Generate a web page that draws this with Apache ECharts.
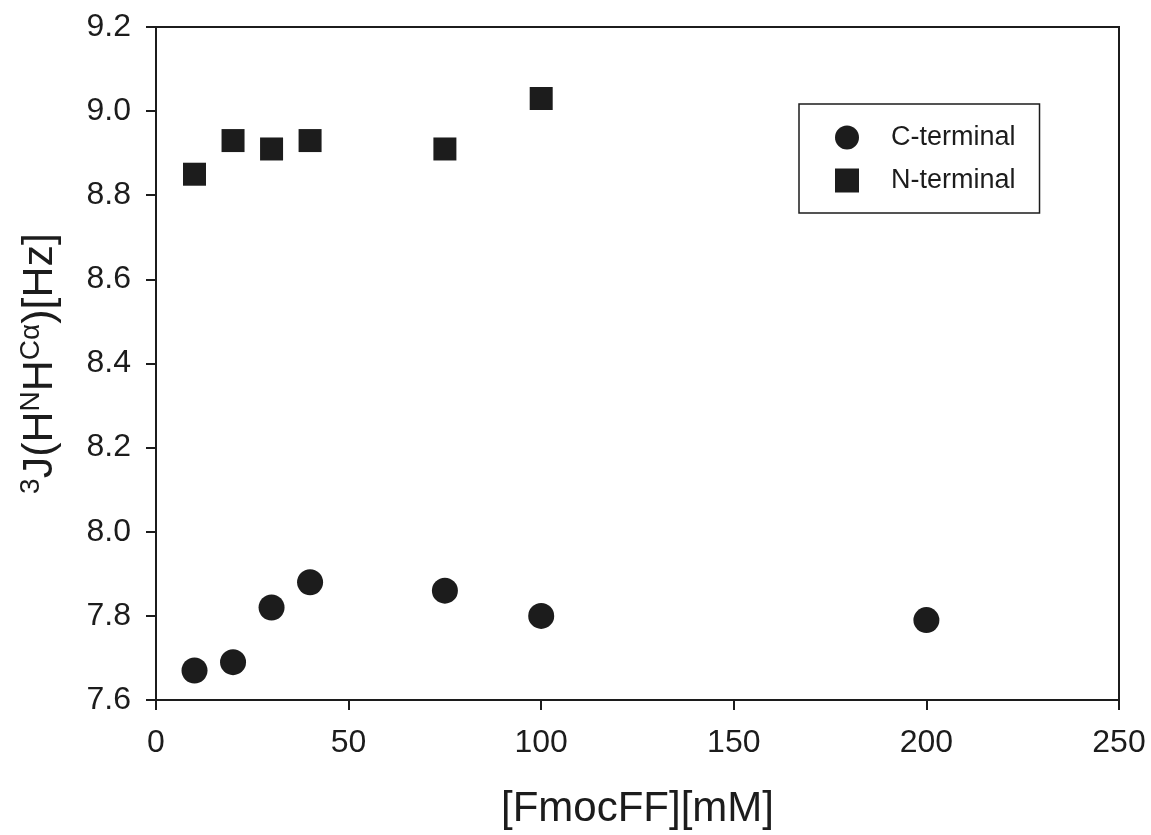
<!DOCTYPE html>
<html>
<head>
<meta charset="utf-8">
<script src="https://cdn.jsdelivr.net/npm/echarts@6/dist/echarts.min.js"></script>
<style>
    html, body { margin: 0; padding: 0; background: #fff; }
    #chart { width: 1151px; height: 835px; }
</style>
</head>
<body>
<div id="chart"></div>
<script>
    // 数据
    var concC = [10, 20, 30, 40, 75, 100, 200];
    var valC = [7.67, 7.69, 7.82, 7.88, 7.86, 7.80, 7.79];
    var concN = [10, 20, 30, 40, 75, 100];
    var valN = [8.85, 8.93, 8.91, 8.93, 8.91, 9.03];

    var ink = '#1c1c1c';
    var font = '"Liberation Sans", Arial, sans-serif';

    function pairs(xs, ys) {
        var out = [];
        for (var i = 0; i < xs.length; i++) {
            out.push([xs[i], ys[i]]);
        }
        return out;
    }

    var myChart = echarts.init(document.getElementById('chart'));
    var option = {
        animation: false,
        textStyle: { fontFamily: font, color: ink },
        grid: {
            left: 156,
            right: 32,
            top: 27,
            bottom: 132,
            show: true,
            borderColor: ink,
            borderWidth: 2
        },
        legend: {
            orient: 'vertical',
            left: 799,
            top: 104,
            padding: [20, 24, 19, 36],
            itemGap: 16,
            itemWidth: 24,
            itemHeight: 24,
            borderColor: ink,
            borderWidth: 1.5,
            textStyle: {
                fontSize: 27,
                color: ink,
                padding: [0, 0, 0, 27]
            },
            data: ['C-terminal', 'N-terminal']
        },
        xAxis: {
            type: 'value',
            min: 0,
            max: 250,
            interval: 50,
            name: '[FmocFF][mM]',
            nameLocation: 'middle',
            nameGap: 88,
            nameTextStyle: { fontSize: 42, color: ink },
            axisLine: { lineStyle: { color: ink, width: 2 } },
            axisTick: { show: true, inside: false, length: 10, lineStyle: { color: ink, width: 2 } },
            axisLabel: { fontSize: 32, color: ink, margin: 27 },
            splitLine: { show: false }
        },
        yAxis: {
            type: 'value',
            min: 7.6,
            max: 9.2,
            interval: 0.2,
            name: '{sup|3}{b|J(H}{sup|N}{b|H}{sup|C\u03b1}{b|)[Hz]}',
            nameLocation: 'middle',
            nameGap: 92,
            nameTextStyle: {
                rich: {
                    b: { fontSize: 43, color: ink, fontFamily: font, lineHeight: 47 },
                    sup: { fontSize: 28, color: ink, fontFamily: font, verticalAlign: 'top', lineHeight: 47 }
                }
            },
            axisLine: { show: true, lineStyle: { color: ink, width: 2 } },
            axisTick: { show: true, inside: false, length: 10, lineStyle: { color: ink, width: 2 } },
            axisLabel: {
                fontSize: 32,
                color: ink,
                margin: 25,
                formatter: function (v) { return v.toFixed(1); }
            },
            splitLine: { show: false }
        },
        series: [{
            name: 'C-terminal',
            type: 'scatter',
            symbol: 'circle',
            symbolSize: 26,
            itemStyle: { color: ink, opacity: 1 },
            data: pairs(concC, valC)
        }, {
            name: 'N-terminal',
            type: 'scatter',
            symbol: 'rect',
            symbolSize: 23,
            itemStyle: { color: ink, opacity: 1 },
            data: pairs(concN, valN)
        }]
    };
    myChart.setOption(option);
</script>
</body>
</html>
